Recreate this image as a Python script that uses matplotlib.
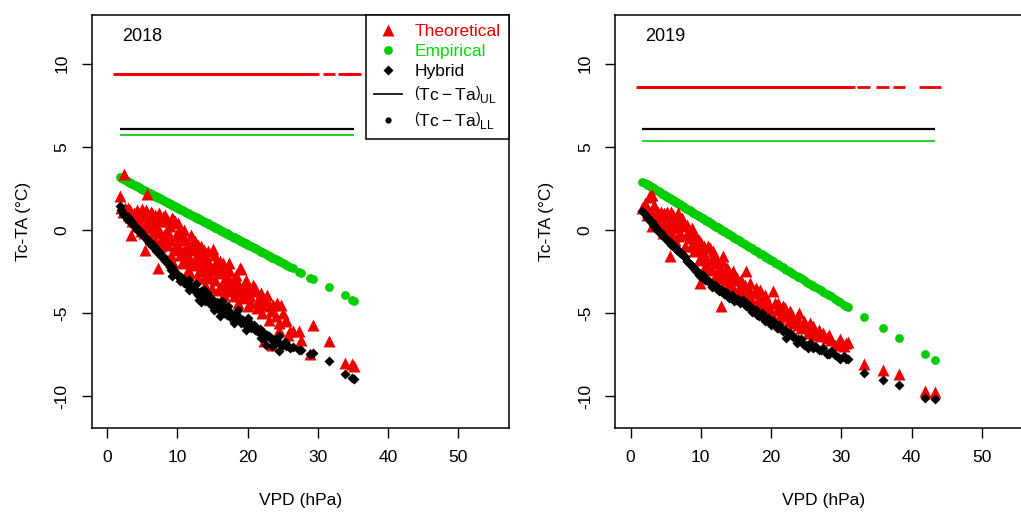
import matplotlib.pyplot as plt
from matplotlib.lines import Line2D

plt.rcParams['font.family'] = ['Liberation Sans', 'DejaVu Sans']
plt.rcParams['mathtext.fontset'] = 'custom'
plt.rcParams['mathtext.rm'] = 'Liberation Sans'

RED = '#EE0000'
GREEN = '#00CD00'

# ---- 2018 ----
vpd_2018 = [1.8, 2.0, 2.2, 2.35, 2.6, 2.9, 3.2, 3.5, 3.8, 4.1, 4.4, 4.7, 5.0, 5.3, 5.7, 5.9,
            6.2, 6.5, 6.8, 7.1, 7.4, 7.7, 8.0, 8.3, 8.6, 8.9, 9.2, 9.5, 9.8, 10.1, 10.4, 10.7,
            11.0, 11.3, 11.6, 11.9, 12.2, 12.5, 12.8, 13.1, 13.4, 13.7, 14.0, 14.3, 14.6, 15.1,
            15.3, 15.6, 15.9, 16.2, 16.5, 16.8, 17.1, 17.4, 17.7, 18.0, 18.3, 18.7, 19.0, 19.3,
            19.7, 20.1, 20.5, 20.9, 21.3, 21.7, 22.1, 22.6, 23.0, 23.6, 24.0, 24.5, 24.8, 25.3,
            25.8, 26.4, 27.3, 27.6, 28.9, 29.3, 31.6, 33.8, 34.9, 35.2,
            6.0, 7.0, 8.1, 9.0, 10.0, 10.9, 12.0, 13.0, 14.0, 15.0, 16.0, 17.0, 18.0, 19.0,
            21.0, 22.0, 23.2, 11.5, 12.9, 14.9, 16.6, 5.5, 4.5, 3.0, 9.6, 8.5, 22.3, 23.5,
            3.3, 3.9, 4.2, 4.8, 5.1, 5.6, 6.1, 6.4, 6.7, 7.2, 7.5, 7.9, 8.2, 8.7, 9.1, 9.4,
            9.9, 10.3, 10.6, 11.1, 11.4, 11.8, 12.3, 12.7, 13.2, 13.6, 13.9, 14.4, 14.8, 15.4,
            15.8, 16.3, 16.9, 17.3, 17.9, 18.5, 18.9, 19.5, 20.3, 20.7, 21.5, 22.8, 23.3, 24.2,
            25.0, 25.5, 26.0,
            8.8, 10.5, 11.7, 12.6, 13.3, 14.2, 15.2, 16.1, 17.2, 18.1, 19.8, 20.0, 21.9, 24.4,
            13.8, 9.3, 7.6, 6.9, 18.6, 16.4, 3.4, 7.3, 5.4]
theo_2018 = [2.05, 1.3, 1.1, 3.35, 1.3, 0.9, 1.2, 0.5, 1.0, 0.2, 1.1, 0.4, 1.25, -0.2, 2.15, 0.7,
             1.1, -0.4, 0.9, 0.2, 1.0, -0.6, 0.5, 0.9, -0.9, 0.2, 0.7, -1.2, -0.3, 0.4, -1.5, -0.5,
             0.0, -1.9, -0.9, -0.3, -2.1, -0.7, -1.5, -2.5, -1.0, -1.8, -2.8, -1.3, -2.2, -1.16,
             -3.0, -1.8, -2.6, -3.4, -2.0, -2.9, -3.7, -2.4, -3.2, -4.0, -2.7, -3.5, -2.35, -4.1,
             -3.0, -3.5, -4.4, -3.7, -4.7, -4.0, -5.0, -4.3, -5.4, -4.5, -5.2, -6.0, -4.5, -5.5,
             -6.3, -6.1, -6.1, -6.6, -7.5, -5.7, -6.7, -8.0, -8.1, -8.2,
             0.1, 0.6, -0.3, -0.6, -1.0, -1.2, -1.2, -0.9, -1.6, -2.4, -1.9, -2.5, -3.0, -3.8,
             -3.5, -4.5, -4.6, -2.4, -2.9, -3.5, -3.9, 0.3, 0.8, 1.3, 0.5, 0.0, -6.7, -6.9,
             0.8, 0.5, 1.2, -0.1, 0.9, 1.2, 0.4, 1.0, 0.0, 0.9, -0.2, 0.8, -0.8, 0.5, -1.5, 0.64,
             -0.8, -0.1, -2.0, -0.6, -1.4, -2.6, -0.66, -1.9, -1.4, -2.3, -3.3, -1.9, -2.9, -2.2,
             -3.6, -2.5, -3.3, -2.0, -3.6, -3.1, -2.3, -3.4, -4.0, -3.3, -4.3, -3.9, -4.9, -4.4,
             -5.0, -5.4, -6.1,
             -0.4, -0.3, -1.7, -1.1, -2.0, -2.5, -1.5, -2.3, -2.9, -3.3, -3.8, -4.6, -3.8, -5.6,
             -1.2, -1.9, -1.0, -0.8, -4.4, -4.1, -0.3, -2.3, -1.2]
hyb_2018 = [1.45, 1.2, 1.0, 0.9, 0.85, 0.75, 0.6, 0.4, 0.25, 0.1, -0.05, -0.1, -0.25, -0.4, -0.6, -0.65,
            -0.85, -0.9, -1.1, -1.25, -1.35, -1.55, -1.65, -1.8, -2.0, -2.15, -2.25, -2.5, -2.6, -2.75, -3.1, -2.9,
            -3.05, -3.3, -3.0, -3.4, -3.55, -3.3, -3.8, -4.2, -3.7, -4.1, -4.3, -3.9, -4.45, -4.2,
            -4.6, -4.35, -4.8, -4.5, -4.9, -4.7, -5.1, -5.0, -5.3, -5.1, -5.4, -5.25, -5.6, -5.4,
            -5.7, -5.5, -5.9, -5.75, -6.1, -5.95, -6.3, -6.9, -6.4, -6.6, -6.8, -7.3, -6.9, -6.75,
            -7.0, -7.05, -7.2, -7.25, -7.5, -7.4, -7.9, -8.7, -8.9, -8.95,
            -0.8, -1.3, -1.75, -2.25, -2.7, -3.2, -3.5, -3.85, -4.1, -4.4, -4.75, -4.95, -5.25, -5.5,
            -6.0, -6.1, -6.5, -3.3, -3.95, -4.5, -5.0, -0.5, -0.1, 0.6, -2.55, -1.95, -6.5, -7.0,
            0.55, 0.25, 0.05, -0.2, -0.3, -0.5, -0.75, -0.95, -1.0, -1.35, -1.5, -1.6, -1.85, -2.0, -2.4, -2.4,
            -2.7, -2.8, -3.0, -3.1, -3.2, -3.4, -3.5, -3.6, -3.8, -4.0, -4.2, -4.1, -4.3, -4.6,
            -4.7, -4.8, -5.0, -4.9, -5.3, -5.3, -5.5, -5.6, -5.8, -5.8, -6.0, -6.3, -6.5, -6.7,
            -6.9, -7.0, -7.1,
            -2.1, -2.85, -3.6, -3.25, -4.35, -3.8, -4.85, -5.2, -4.6, -5.6, -6.0, -5.3, -6.5, -6.4,
            -3.6, -2.8, -1.5, -1.15, -4.85, -4.3, 0.5, -1.3, -0.45]
emp_2018 = [3.15, 3.11, 3.06, 3.03, 2.97, 2.91, 2.84, 2.77, 2.71, 2.64, 2.57, 2.51, 2.44, 2.37, 2.28, 2.24,
            2.17, 2.11, 2.04, 1.97, 1.91, 1.84, 1.77, 1.71, 1.64, 1.57, 1.51, 1.44, 1.37, 1.31, 1.24, 1.17,
            1.11, 1.04, 0.97, 0.91, 0.84, 0.78, 0.71, 0.64, 0.57, 0.51, 0.44, 0.38, 0.31, 0.20,
            0.15, 0.09, 0.02, -0.05, -0.11, -0.18, -0.25, -0.31, -0.38, -0.45, -0.51, -0.60, -0.67, -0.73,
            -0.82, -0.91, -1.00, -1.09, -1.18, -1.27, -1.36, -1.47, -1.56, -1.69, -1.78, -1.89, -1.96, -2.07,
            -2.18, -2.31, -2.51, -2.58, -2.87, -2.95, -3.47, -3.95, -4.20, -4.26,
            2.22, 2.00, 1.75, 1.55, 1.33, 1.13, 0.89, 0.66, 0.44, 0.22, 0.00, -0.22, -0.45, -0.67,
            -1.11, -1.33, -1.60, 1.00, 0.69, 0.24, -0.14, 2.33, 2.55, 2.88, 1.42, 1.66, -1.40, -1.67,
            2.82, 2.68, 2.62, 2.48, 2.42, 2.31, 2.20, 2.13, 2.06, 1.95, 1.89, 1.80, 1.73, 1.62, 1.53, 1.46,
            1.35, 1.26, 1.20, 1.09, 1.02, 0.93, 0.82, 0.73, 0.62, 0.53, 0.46, 0.35, 0.26, 0.13,
            0.04, -0.07, -0.20, -0.29, -0.42, -0.56, -0.65, -0.78, -0.96, -1.05, -1.22, -1.51, -1.62, -1.82,
            -2.00, -2.11, -2.22,
            1.60, 1.22, 0.95, 0.75, 0.60, 0.40, 0.18, -0.02, -0.27, -0.47, -0.85, -0.89, -1.31, -1.87,
            0.49, 1.49, 1.86, 2.02, -0.58, -0.09, 2.80, 1.93, 2.35]

# ---- 2019 ----
vpd_2019 = [1.7, 2.0, 2.3, 2.6, 2.9, 3.1, 3.4, 3.7, 4.0, 4.3, 4.6, 4.9, 5.2, 5.5, 5.8, 6.1,
            6.4, 6.8, 7.1, 7.5, 7.8, 8.1, 8.4, 8.7, 9.0, 9.4, 9.7, 10.0, 10.3, 10.6, 11.0, 11.3,
            11.6, 12.0, 12.3, 12.6, 13.0, 13.3, 13.7, 14.0, 14.4, 14.8, 15.2, 15.6, 16.0, 16.5,
            16.9, 17.3, 17.9, 18.3, 18.7, 19.1, 19.6, 20.0, 20.3, 20.8, 21.2, 21.7, 22.2, 22.7,
            23.2, 23.7, 24.2, 24.7, 25.3, 25.6, 26.2, 26.8, 27.4, 27.9, 28.5, 29.1, 29.8, 30.4,
            31.0, 33.2, 35.9, 38.2, 41.9, 43.3,
            3.0, 4.5, 5.9, 7.0, 8.0, 9.2, 10.2, 11.4, 12.4, 13.5, 14.6, 15.8, 17.0, 18.0,
            19.2, 21.0, 22.5, 24.0, 26.0, 6.6,
            2.4, 2.8, 3.3, 3.6, 3.9, 4.2, 4.8, 5.1, 5.4, 5.7, 6.0, 6.3, 6.7, 7.3, 7.6, 8.3,
            8.6, 8.9, 9.5, 9.8, 10.5, 10.8, 11.2, 11.8, 12.2, 12.8, 13.2, 13.9, 14.2, 15.0,
            15.4, 16.3, 16.7, 17.6, 18.5, 19.4, 19.9, 20.6, 21.5, 22.0, 23.0, 23.9, 25.0, 25.9,
            27.1, 28.2, 29.5, 30.7,
            5.6, 9.9, 12.9]
theo_2019 = [1.3, 1.6, 1.24, 2.0, 1.1, 2.1, 0.6, 1.0, 0.3, 1.1, -0.2, 0.8, 1.05, 0.0, 0.5, 0.9,
             -0.6, 1.0, -0.2, 0.55, -1.0, 0.3, -0.5, 0.1, -1.3, -0.5, -1.8, -0.8, -1.5, -2.2, -1.0, -1.1,
             -2.4, -1.6, -2.0, -2.9, -1.9, -2.6, -2.3, -3.2, -2.8, -3.6, -2.9, -3.4, -3.9, -2.5,
             -3.6, -4.3, -3.5, -4.1, -4.6, -3.9, -4.5, -5.0, -3.7, -4.8, -5.3, -4.6, -5.2, -4.9,
             -5.6, -5.3, -5.9, -5.5, -6.2, -5.6, -6.3, -6.0, -6.2, -6.5, -6.6, -6.9, -6.55, -7.0,
             -6.75, -8.1, -8.45, -8.7, -9.7, -9.75,
             0.2, 0.4, -0.3, 0.4, -0.3, -0.9, -1.2, -1.8, -2.5, -3.0, -2.5, -3.0, -3.2, -4.4,
             -4.8, -4.4, -5.5, -5.0, -5.8, 0.1,
             0.9, 2.05, 1.5, 0.4, 1.1, 0.7, 1.0, 0.1, 0.9, 1.1, 0.2, 0.6, -0.4, 0.74, 0.2, 0.0,
             -1.0, -0.3, -1.2, -0.6, -1.0, -1.7, -2.3, -1.3, -2.7, -2.2, -1.6, -2.4, -3.3, -3.0,
             -3.8, -3.3, -4.0, -3.8, -3.6, -4.2, -4.8, -4.4, -5.0, -4.7, -5.1, -5.7, -5.8, -6.0,
             -6.4, -6.3, -6.8, -6.8,
             -1.6, -3.2, -4.6]
hyb_2019 = [1.14, 0.95, 0.8, 0.65, 0.5, 0.4, 0.25, 0.05, -0.1, -0.2, -0.35, -0.5, -0.6, -0.7, -0.9, -0.95,
            -1.1, -1.25, -1.4, -1.5, -1.65, -1.9, -2.05, -2.2, -2.3, -2.5, -2.7, -2.75, -2.7, -3.0, -3.05, -3.2,
            -3.45, -3.3, -3.55, -3.7, -3.6, -3.85, -3.8, -4.1, -3.95, -4.3, -4.15, -4.4, -4.25, -4.6,
            -4.5, -4.95, -4.8, -5.2, -5.0, -5.4, -5.3, -5.7, -5.5, -5.9, -5.75, -6.1, -6.5, -6.2,
            -6.45, -6.8, -6.55, -6.9, -7.1, -6.8, -7.0, -7.25, -7.1, -7.5, -7.3, -7.55, -7.75, -7.6,
            -7.8, -8.6, -9.05, -9.35, -10.1, -10.2,
            0.45, -0.3, -0.85, -1.35, -1.85, -2.4, -2.8, -3.2, -3.5, -3.75, -4.1, -4.3, -4.75, -5.1,
            -5.5, -5.9, -6.25, -6.7, -7.1, -1.2,
            0.75, 0.55, 0.3, 0.1, -0.05, -0.15, -0.45, -0.55, -0.7, -0.8, -1.0, -1.05, -1.2, -1.45, -1.55, -2.0,
            -2.1, -2.25, -2.55, -2.6, -2.9, -2.95, -3.1, -3.4, -3.45, -3.6, -3.7, -3.9, -4.05, -4.2,
            -4.2, -4.45, -4.6, -4.85, -5.1, -5.35, -5.5, -5.7, -6.0, -6.05, -6.3, -6.55, -6.9, -7.0,
            -7.2, -7.45, -7.65, -7.8,
            -0.75, -2.75, -3.7]
emp_2019 = [2.90, 2.82, 2.75, 2.67, 2.59, 2.54, 2.46, 2.39, 2.31, 2.23, 2.15, 2.08, 2.00, 1.92, 1.84, 1.77,
            1.69, 1.59, 1.51, 1.41, 1.33, 1.25, 1.17, 1.10, 1.02, 0.91, 0.84, 0.76, 0.68, 0.61, 0.50, 0.42,
            0.35, 0.24, 0.17, 0.09, -0.01, -0.09, -0.19, -0.27, -0.38, -0.48, -0.58, -0.68, -0.79, -0.92,
            -1.02, -1.12, -1.28, -1.38, -1.48, -1.59, -1.72, -1.82, -1.90, -2.03, -2.13, -2.26, -2.39, -2.52,
            -2.65, -2.77, -2.90, -3.03, -3.19, -3.26, -3.42, -3.57, -3.73, -3.86, -4.01, -4.17, -4.35, -4.50,
            -4.66, -5.23, -5.92, -6.52, -7.47, -7.83,
            2.57, 2.18, 1.82, 1.53, 1.28, 0.97, 0.71, 0.40, 0.14, -0.14, -0.43, -0.74, -1.05, -1.30,
            -1.61, -2.08, -2.47, -2.85, -3.37, 1.64,
            2.72, 2.62, 2.49, 2.41, 2.33, 2.26, 2.10, 2.02, 1.95, 1.87, 1.79, 1.71, 1.61, 1.46, 1.38, 1.20,
            1.12, 1.04, 0.89, 0.81, 0.63, 0.55, 0.45, 0.30, 0.19, 0.04, -0.07, -0.25, -0.32, -0.53,
            -0.63, -0.87, -0.97, -1.20, -1.43, -1.67, -1.79, -1.97, -2.21, -2.34, -2.59, -2.83, -3.11, -3.34,
            -3.65, -3.94, -4.27, -4.58,
            1.90, 0.79, 0.01]

# upper limits of Tc-Ta: theoretical, hybrid, empirical
ul_2018 = {'theo': 9.37, 'hyb': 6.07, 'emp': 5.68}
ul_2019 = {'theo': 8.57, 'hyb': 6.07, 'emp': 5.36}

panels = [
    ('2018', vpd_2018, theo_2018, hyb_2018, emp_2018, ul_2018, 0.0898),
    ('2019', vpd_2019, theo_2019, hyb_2019, emp_2019, ul_2019, 0.6024),
]

FS = 12.5
DASH = 0.9  # half length of the UL tick drawn at each observation

fig = plt.figure(figsize=(10.21, 5.12), dpi=100)

for year, vpd, theo, hyb, emp, ul, left in panels:
    ax = fig.add_axes([left, 0.1641, 0.4087, 0.8066])
    ax.plot(vpd, emp, 'o', color=GREEN, ms=6.3, mec='none', zorder=2)
    ax.plot(vpd, theo, '^', color=RED, ms=8.3, mec='none', zorder=3)
    ax.plot(vpd, hyb, 'D', color='black', ms=5.3, mec='none', zorder=4)

    # theoretical UL: a short dash at every VPD, so sparse days leave gaps
    ax.hlines([ul['theo']] * len(vpd), [v - DASH for v in vpd], [v + DASH for v in vpd],
              color=RED, lw=2.0, zorder=2)
    ax.hlines(ul['hyb'], min(vpd), max(vpd), color='black', lw=1.6, zorder=2)
    ax.hlines(ul['emp'], min(vpd), max(vpd), color=GREEN, lw=1.2, zorder=2)

    ax.text(5, 11.6, year, ha='center', va='center', fontsize=13)

    ax.set_xlim(-2.2, 57.2)
    ax.set_ylim(-11.92, 12.92)
    ax.set_xticks([0, 10, 20, 30, 40, 50])
    ax.set_yticks([-10, -5, 0, 5, 10])
    ax.set_yticklabels(['-10', '-5', '0', '5', '10'], rotation=90, va='center')
    ax.tick_params(length=7, width=1, labelsize=FS, pad=9)
    ax.set_xlabel('VPD (hPa)', fontsize=FS, labelpad=20)
    ax.set_ylabel('Tc-TA (°C)', fontsize=FS, labelpad=17)
    for s in ax.spines.values():
        s.set_linewidth(1.1)

    if year == '2018':
        handles = [
            Line2D([], [], ls='none', marker='^', color=RED, ms=8, mec='none'),
            Line2D([], [], ls='none', marker='o', color=GREEN, ms=6.3, mec='none'),
            Line2D([], [], ls='none', marker='D', color='black', ms=5, mec='none'),
            Line2D([], [], color='black', lw=1.2),
            Line2D([], [], ls='none', marker='o', color='black', ms=4.5, mec='none'),
        ]
        labels = ['Theoretical', 'Empirical', 'Hybrid',
                  r'$\left(\mathrm{Tc}-\mathrm{Ta}\right)_{\mathrm{UL}}$',
                  r'$\left(\mathrm{Tc}-\mathrm{Ta}\right)_{\mathrm{LL}}$']
        leg = ax.legend(handles, labels, loc='upper right', fontsize=FS,
                        frameon=True, fancybox=False, edgecolor='black', framealpha=1,
                        borderaxespad=0, handlelength=1.6, handletextpad=0.7,
                        labelspacing=0.28, borderpad=0.5)
        leg.get_frame().set_linewidth(1.1)
        for txt, c in zip(leg.get_texts(), [RED, '#00DD00', 'black', 'black', 'black']):
            txt.set_color(c)

fig.savefig('out.png', dpi=100)
